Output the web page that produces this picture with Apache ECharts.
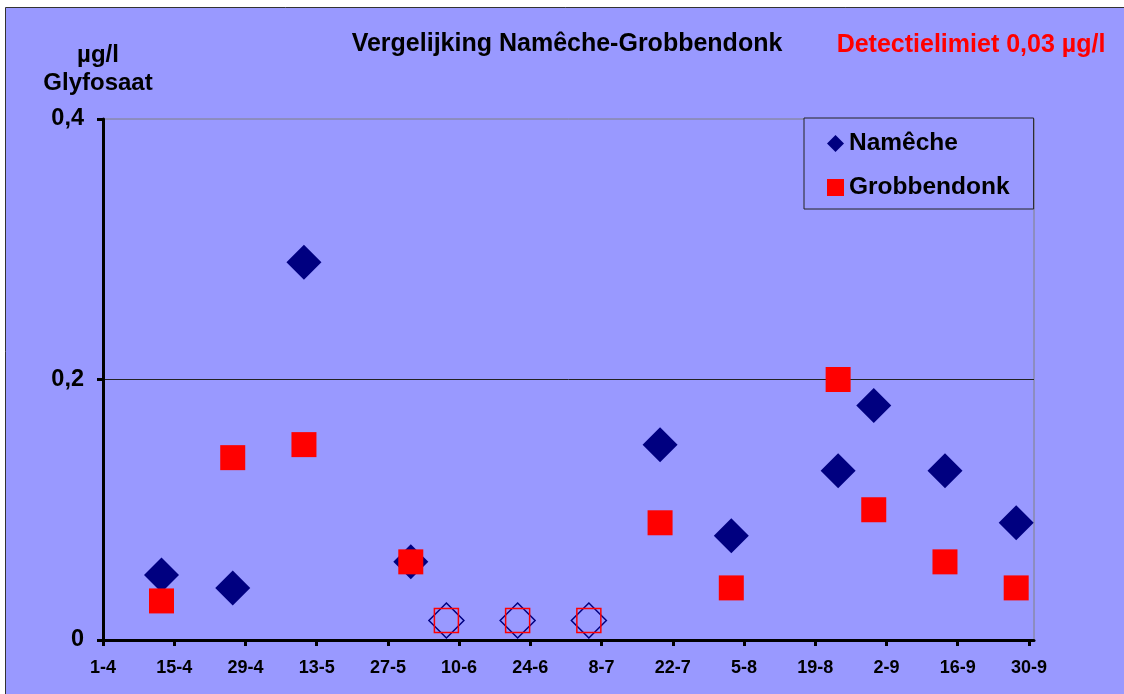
<!DOCTYPE html>
<html>
<head>
<meta charset="utf-8">
<script src="https://cdn.jsdelivr.net/npm/echarts@6/dist/echarts.min.js"></script>
<style>
  html, body { margin: 0; padding: 0; background: #fff; }
  #chart { width: 1124px; height: 694px; }
</style>
</head>
<body>
<div id="chart"></div>
<script>
// sampling dates (d-m) and glyfosaat levels in µg/l
const sampleDates = ["12-4", "26-4", "10-5", "31-5", "19-7", "2-8", "23-8", "30-8", "13-9", "27-9"];
const namecheValues = [0.05, 0.04, 0.29, 0.06, 0.15, 0.08, 0.13, 0.18, 0.13, 0.09];
const grobbendonkValues = [0.03, 0.14, 0.15, 0.06, 0.09, 0.04, 0.20, 0.10, 0.06, 0.04];

// below detection limit (0,03) -> plotted at half the limit, open markers
const belowLimitDates = ["7-6", "21-6", "5-7"];
const belowLimitValue = 0.015;

// x-axis tick labels, every 14 days from 1-4
const tickLabels = ["1-4", "15-4", "29-4", "13-5", "27-5", "10-6", "24-6", "8-7", "22-7", "5-8", "19-8", "2-9", "16-9", "30-9"];

const monthStart = { 4: 0, 5: 30, 6: 61, 7: 91, 8: 122, 9: 153, 10: 183 };
// days since 1 April, samples taken around midday
function toDay(s, noon) {
  const [d, m] = s.split("-").map(Number);
  return monthStart[m] + d - 1 + (noon ? 0.5 : 0);
}

const tickDays = tickLabels.map((t) => toDay(t, false));
const labelByDay = {};
tickLabels.forEach((t, i) => (labelByDay[tickDays[i]] = t));

const font = "'Liberation Sans', Arial, sans-serif";
const navy = "#000080";
const red = "#FF0000";

const chart = echarts.init(document.getElementById("chart"));

chart.setOption({
  backgroundColor: "#fff",
  animation: false,
  graphic: [
    {
      type: "rect",
      z: -100,
      shape: { x: 5.5, y: 7.5, width: 1200, height: 800 },
      style: { fill: "#9999FF", stroke: "#333", lineWidth: 1 },
    },
    {
      type: "text",
      x: 567, y: 44,
      style: { text: "Vergelijking Namêche-Grobbendonk", font: "bold 25px " + font, fill: "#000", align: "center", verticalAlign: "middle" },
    },
    {
      type: "text",
      x: 971, y: 45,
      style: { text: "Detectielimiet 0,03 µg/l", font: "bold 25px " + font, fill: red, align: "center", verticalAlign: "middle" },
    },
    {
      type: "text",
      x: 98, y: 55,
      style: { text: "µg/l", font: "bold 24px " + font, fill: "#000", align: "center", verticalAlign: "middle" },
    },
    {
      type: "text",
      x: 98, y: 83,
      style: { text: "Glyfosaat", font: "bold 24px " + font, fill: "#000", align: "center", verticalAlign: "middle" },
    },
  ],
  legend: {
    data: ["Namêche", "Grobbendonk"],
    orient: "vertical",
    left: 804,
    top: 118,
    padding: [13, 24, 9, 23],
    itemGap: 19,
    itemWidth: 17,
    itemHeight: 17,
    backgroundColor: "#9999FF",
    borderColor: "#222",
    borderWidth: 1,
    textStyle: { fontFamily: font, fontWeight: "bold", fontSize: 24.5, color: "#000" },
  },
  grid: {
    left: 103,
    right: 90,
    top: 119,
    bottom: 54,
    show: true,
    backgroundColor: "transparent",
    borderColor: "#808080",
    borderWidth: 1,
  },
  xAxis: {
    type: "value",
    min: 0,
    max: 183,
    axisLine: { lineStyle: { color: "#000", width: 3 } },
    axisTick: { customValues: tickDays, length: 6, lineStyle: { color: "#000", width: 3 } },
    axisLabel: {
      customValues: tickDays,
      margin: 19,
      fontFamily: font,
      fontWeight: "bold",
      fontSize: 18,
      color: "#000",
      formatter: (v) => labelByDay[v] || "",
    },
    splitLine: { show: false },
  },
  yAxis: {
    type: "value",
    min: 0,
    max: 0.4,
    interval: 0.2,
    axisLine: { show: true, lineStyle: { color: "#000", width: 3 } },
    axisTick: { show: true, length: 6, lineStyle: { color: "#000", width: 3 } },
    axisLabel: {
      margin: 19,
      fontFamily: font,
      fontWeight: "bold",
      fontSize: 23.5,
      color: "#000",
      formatter: (v) => String(v).replace(".", ","),
    },
    splitLine: { show: true, showMaxLine: false, lineStyle: { color: "#222", width: 1 } },
  },
  series: [
    {
      name: "Namêche",
      type: "scatter",
      symbol: "diamond",
      symbolSize: 35,
      itemStyle: { color: navy, opacity: 1 },
      data: sampleDates.map((d, i) => [toDay(d, true), namecheValues[i]]),
    },
    {
      name: "Grobbendonk",
      type: "scatter",
      symbol: "rect",
      symbolSize: 25,
      itemStyle: { color: red, opacity: 1 },
      data: sampleDates.map((d, i) => [toDay(d, true), grobbendonkValues[i]]),
    },
    {
      name: "Namêche < DL",
      type: "scatter",
      symbol: "diamond",
      symbolSize: 35,
      itemStyle: { color: "transparent", borderColor: navy, borderWidth: 1.5, opacity: 1 },
      data: belowLimitDates.map((d) => [toDay(d, true), belowLimitValue]),
    },
    {
      name: "Grobbendonk < DL",
      type: "scatter",
      symbol: "rect",
      symbolSize: 24,
      itemStyle: { color: "transparent", borderColor: red, borderWidth: 1.5, opacity: 1 },
      data: belowLimitDates.map((d) => [toDay(d, true), belowLimitValue]),
    },
  ],
});
</script>
</body>
</html>
